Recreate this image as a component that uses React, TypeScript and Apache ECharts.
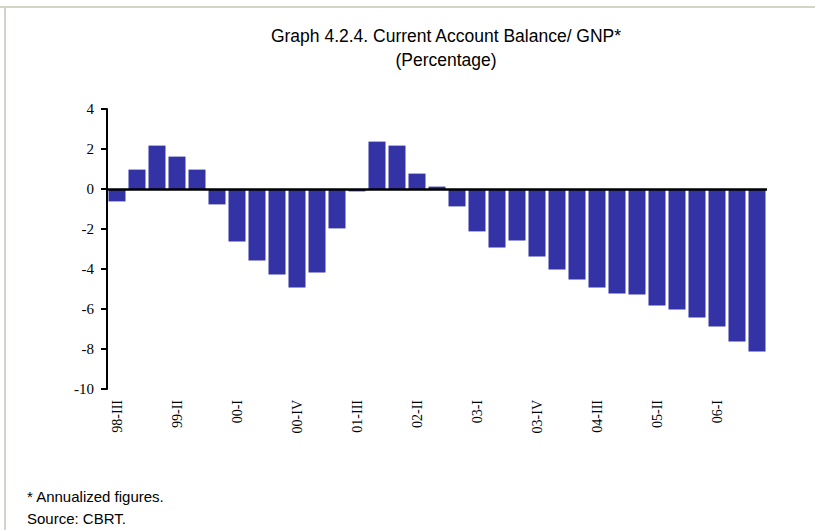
import React, { useEffect, useRef } from "react";
import * as echarts from "echarts";

const categories = [
  "98-III", "98-IV", "99-I", "99-II", "99-III", "99-IV",
  "00-I", "00-II", "00-III", "00-IV",
  "01-I", "01-II", "01-III", "01-IV",
  "02-I", "02-II", "02-III", "02-IV",
  "03-I", "03-II", "03-III", "03-IV",
  "04-I", "04-II", "04-III", "04-IV",
  "05-I", "05-II", "05-III", "05-IV",
  "06-I", "06-II", "06-III",
];

const balanceToGnp = [
  -0.62, 0.97, 2.17, 1.62, 0.97, -0.77,
  -2.62, -3.57, -4.27, -4.92,
  -4.17, -1.97, -0.12, 2.37,
  2.17, 0.77, 0.12, -0.87,
  -2.12, -2.92, -2.57, -3.37,
  -4.02, -4.52, -4.92, -5.22,
  -5.27, -5.82, -6.02, -6.42,
  -6.87, -7.62, -8.12,
];

const titleText = "Graph 4.2.4. Current Account Balance/ GNP*";
const subtitleText = "(Percentage)";
const footnotes = ["* Annualized figures.", "Source: CBRT."];

const SANS = "Liberation Sans, Arial, sans-serif";
const SERIF = "Liberation Serif, Times New Roman, serif";

export default function App() {
  const ref = useRef<HTMLDivElement>(null);
  useEffect(() => {
    if (!ref.current) return;
    const chart = echarts.init(ref.current, undefined, { renderer: "svg" });
    chart.setOption({
      animation: false,
      backgroundColor: "#ffffff",
      grid: { left: 107, right: 48, top: 109, bottom: 141, containLabel: false },
      xAxis: {
        type: "category",
        data: categories,
        position: "bottom",
        axisLine: { show: false, onZero: false },
        axisTick: { show: false },
        axisLabel: {
          interval: 2,
          rotate: 90,
          margin: 11,
          fontFamily: SERIF,
          fontSize: 14,
          color: "#000",
        },
        splitLine: { show: false },
      },
      yAxis: {
        type: "value",
        min: -10,
        max: 4,
        interval: 2,
        axisLine: { show: true, lineStyle: { color: "#000", width: 2 } },
        axisTick: { show: true, length: 6, lineStyle: { color: "#000", width: 2 } },
        axisLabel: { fontFamily: SERIF, fontSize: 15, color: "#000", margin: 13 },
        splitLine: { show: false },
      },
      series: [
        {
          type: "bar",
          data: balanceToGnp,
          barCategoryGap: "15%",
          itemStyle: { color: "#3333a6" },
          markLine: {
            silent: true,
            symbol: "none",
            label: { show: false },
            lineStyle: { color: "#000", width: 2.5, type: "solid" },
            data: [{ yAxis: 0 }],
          },
        },
      ],
      graphic: [
        {
          type: "line",
          shape: { x1: 0, y1: 7, x2: 815, y2: 7 },
          style: { stroke: "#d6d2c9", lineWidth: 2 },
        },
        {
          type: "line",
          shape: { x1: 5, y1: 7, x2: 5, y2: 530 },
          style: { stroke: "#d6d2c9", lineWidth: 2 },
        },
        {
          type: "text",
          x: 446,
          y: 35.6,
          style: {
            text: titleText,
            fontFamily: SANS,
            fontSize: 17.5,
            fill: "#000",
            align: "center",
            verticalAlign: "middle",
          },
        },
        {
          type: "text",
          x: 446,
          y: 60,
          style: {
            text: subtitleText,
            fontFamily: SANS,
            fontSize: 17.5,
            fill: "#000",
            align: "center",
            verticalAlign: "middle",
          },
        },
        {
          type: "text",
          x: 27,
          y: 496,
          style: {
            text: footnotes[0],
            fontFamily: SANS,
            fontSize: 15,
            fill: "#000",
            align: "left",
            verticalAlign: "middle",
          },
        },
        {
          type: "text",
          x: 27,
          y: 518,
          style: {
            text: footnotes[1],
            fontFamily: SANS,
            fontSize: 15,
            fill: "#000",
            align: "left",
            verticalAlign: "middle",
          },
        },
      ],
    });
    return () => chart.dispose();
  }, []);
  return (
    <div
      ref={ref}
      style={{ position: "fixed", left: 0, top: 0, width: 815, height: 530 }}
    />
  );
}
